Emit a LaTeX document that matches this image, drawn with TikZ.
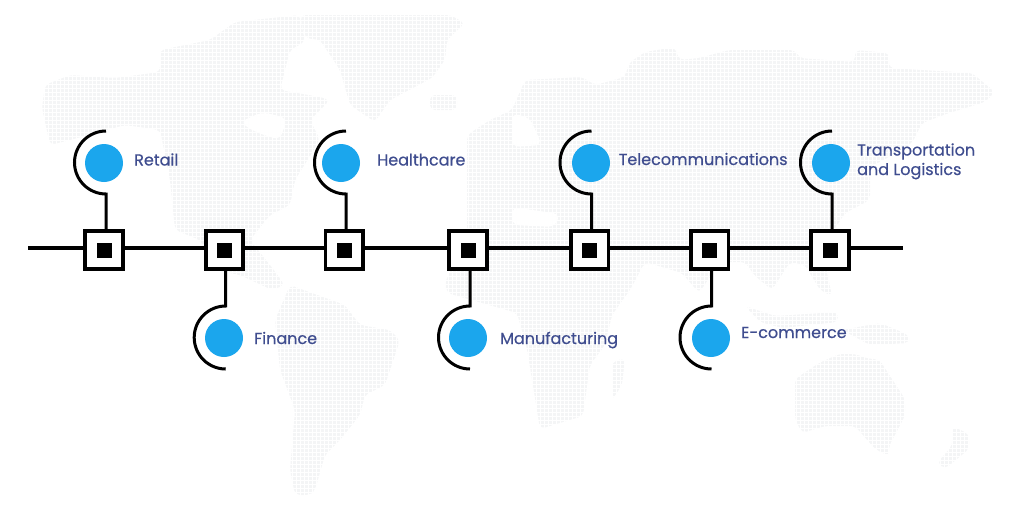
\documentclass[tikz,border=0pt]{standalone}
\usepackage{fontspec}
\setmainfont[FakeBold=0.5]{Poppins}
\usepackage{xcolor}
\usetikzlibrary{positioning}
\definecolor{mapgray}{RGB}{244,245,246}
\definecolor{dotblue}{RGB}{27,166,237}
\definecolor{labelblue}{RGB}{63,77,143}
\tikzset{
  land/.style={fill=mapgray, draw=none, rounded corners=5pt},
  gap/.style={fill=white, draw=none, rounded corners=7pt},
  wire/.style={draw=black, line width=4pt},
  thinwire/.style={draw=black, line width=3pt},
  stop/.style={rectangle, draw=black, line width=3.8pt, fill=white, minimum size=37.5pt, inner sep=0pt, outer sep=0pt},
  core/.style={rectangle, fill=black, minimum size=15pt, inner sep=0pt},
  dot/.style={circle, fill=dotblue, minimum size=38pt, inner sep=0pt},
  tag/.style={anchor=base west, inner sep=0pt, text=labelblue, font=\fontsize{16}{19.5}\selectfont, align=left},
}
\begin{document}
\begin{tikzpicture}[x=1pt,y=-1pt]
    \useasboundingbox (0,0) rectangle (1024,512);
    % world map
    \fill[land] (42,108)--(45,85)--(70,75)--(115,78)--(160,72)--(160,50)--(210,40)--(235,22)--(300,15)--(305,42)--(290,50)--(280,90)--(320,97)--(330,100)--(310,120)--(320,140)--(295,180)--(290,205)--(270,215)--(250,240)--(270,265)--(285,285)--(272,290)--(240,275)--(215,270)--(200,240)--(175,230)--(170,180)--(160,130)--(125,125)--(70,140)--(50,145)--cycle;
    \fill[land] (300,15)--(450,15)--(465,23)--(447,40)--(445,60)--(432,78)--(390,100)--(375,122)--(350,105)--(340,70)--(320,40)--(305,38)--cycle;
    \fill[land] (430,95)--(457,95)--(457,110)--(430,110)--cycle;
    \fill[land] (290,285)--(345,305)--(360,325)--(390,330)--(400,340)--(385,385)--(365,395)--(360,415)--(340,440)--(325,455)--(315,490)--(310,495)--(295,495)--(290,470)--(295,410)--(280,370)--(275,320)--cycle;
    \fill[land] (467,135)--(490,120)--(512,110)--(525,80)--(582,77)--(595,85)--(625,77)--(629,63)--(645,52)--(675,47)--(679,60)--(699,58)--(729,50)--(795,50)--(799,58)--(855,62)--(855,50)--(889,53)--(889,68)--(972,73)--(995,92)--(985,102)--(949,113)--(922,123)--(912,143)--(889,157)--(870,167)--(870,200)--(845,213)--(832,233)--(825,263)--(832,296)--(820,290)--(805,265)--(790,262)--(772,290)--(755,276)--(745,262)--(720,262)--(699,293)--(682,273)--(645,262)--(630,290)--(612,315)--(605,345)--(590,365)--(587,386)--(583,416)--(540,429)--(527,349)--(517,313)--(447,293)--(445,283)--(467,232)--cycle;
    \fill[land] (795,379)--(819,363)--(839,354)--(855,354)--(869,359)--(879,359)--(905,399)--(905,416)--(889,446)--(889,456)--(875,449)--(855,426)--(825,426)--(802,433)--(795,419)--cycle;
    \fill[land] (745,306)--(775,316)--(838,312)--(838,322)--(782,328)--(760,322)--cycle;
    \fill[land] (842,330)--(880,323)--(909,335)--(909,343)--(870,345)--cycle;
    \fill[land] (952,426)--(969,434)--(969,449)--(945,469)--(937,463)--(952,446)--cycle;
    \fill[land] (612,362)--(625,358)--(622,385)--(612,400)--cycle;
    \fill[gap] (240,122)--(262,112)--(287,118)--(280,140)--(255,132)--cycle;
    \fill[gap] (512,113)--(530,118)--(542,145)--(512,147)--cycle;
    \fill[gap] (512,207)--(560,214)--(555,227)--(512,225)--cycle;
    \draw[white,line width=0.9pt,xstep=4,ystep=-4] (0,0) grid (1024,512);
    % line
    \coordinate (lineStart) at (28,247.7);
    \coordinate (lineEnd) at (903,247.7);
    % stops
    \node[stop] (stopRetail) at (104,250) {};
    \node[stop] (stopFinance) at (224.5,250) {};
    \node[stop] (stopHealth) at (344.3,250) {};
    \node[stop] (stopManuf) at (468,250) {};
    \node[stop] (stopTelecom) at (589.7,250) {};
    \node[stop] (stopEcom) at (709.7,250) {};
    \node[stop] (stopTrans) at (830,250) {};
    \node[core] (coreRetail) at (stopRetail) {};
    \node[core] (coreFinance) at (stopFinance) {};
    \node[core] (coreHealth) at (stopHealth) {};
    \node[core] (coreManuf) at (stopManuf) {};
    \node[core] (coreTelecom) at (stopTelecom) {};
    \node[core] (coreEcom) at (stopEcom) {};
    \node[core] (coreTrans) at (stopTrans) {};
    \draw[wire] (lineStart) -- (stopRetail.west |- lineStart);
    \draw[wire] (stopRetail.east |- lineStart) -- (stopFinance.west |- lineStart);
    \draw[wire] (stopFinance.east |- lineStart) -- (stopHealth.west |- lineStart);
    \draw[wire] (stopHealth.east |- lineStart) -- (stopManuf.west |- lineStart);
    \draw[wire] (stopManuf.east |- lineStart) -- (stopTelecom.west |- lineStart);
    \draw[wire] (stopTelecom.east |- lineStart) -- (stopEcom.west |- lineStart);
    \draw[wire] (stopEcom.east |- lineStart) -- (stopTrans.west |- lineStart);
    \draw[wire] (stopTrans.east |- lineStart) -- (lineEnd);
    % dots
    \node[dot] (dotRetail) at (104,163) {};
    \node[dot] (dotHealth) at (341,163) {};
    \node[dot] (dotTelecom) at (591,163) {};
    \node[dot] (dotTrans) at (831,163) {};
    \node[dot] (dotFinance) at (224,338) {};
    \node[dot] (dotManuf) at (468,338) {};
    \node[dot] (dotEcom) at (711,338) {};
    % hooks, upper row
    \coordinate (hookRetail) at (106,194);
    \coordinate (hookHealth) at (346,194);
    \coordinate (hookTelecom) at (591.5,194);
    \coordinate (hookTrans) at (832,194);
    \draw[thinwire] (stopRetail.north -| hookRetail) -- (hookRetail) arc[start angle=90,end angle=270,radius=31.5];
    \draw[thinwire] (stopHealth.north -| hookHealth) -- (hookHealth) arc[start angle=90,end angle=270,radius=31.5];
    \draw[thinwire] (stopTelecom.north -| hookTelecom) -- (hookTelecom) arc[start angle=90,end angle=270,radius=31.5];
    \draw[thinwire] (stopTrans.north -| hookTrans) -- (hookTrans) arc[start angle=90,end angle=270,radius=31.5];
    % hooks, lower row
    \coordinate (hookFinance) at (225.7,306);
    \coordinate (hookManuf) at (470,306);
    \coordinate (hookEcom) at (711.5,306);
    \draw[thinwire] (stopFinance.south -| hookFinance) -- (hookFinance) arc[start angle=270,end angle=90,radius=31.5];
    \draw[thinwire] (stopManuf.south -| hookManuf) -- (hookManuf) arc[start angle=270,end angle=90,radius=31.5];
    \draw[thinwire] (stopEcom.south -| hookEcom) -- (hookEcom) arc[start angle=270,end angle=90,radius=31.5];
    % labels
    \node[tag] (tagRetail) at (134,165.5) {Retail};
    \node[tag] (tagHealth) at (377,165.5) {Healthcare};
    \node[tag] (tagTelecom) at (618.5,165) {Telecommunications};
    \node[tag] (tagTrans) at (857,175) {Transportation\\and Logistics};
    \node[tag] (tagFinance) at (254,344) {Finance};
    \node[tag] (tagManuf) at (500,344) {Manufacturing};
    \node[tag] (tagEcom) at (741,338) {E-commerce};
\end{tikzpicture}
\end{document}
